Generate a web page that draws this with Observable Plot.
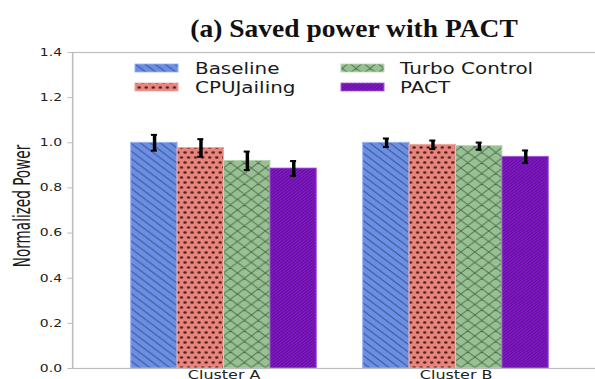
<!DOCTYPE html>
<html>
<head>
<meta charset="utf-8">
<script src="https://cdn.jsdelivr.net/npm/d3@7"></script>
<script src="https://cdn.jsdelivr.net/npm/@observablehq/plot@0.6"></script>
<style>
  html, body { margin: 0; padding: 0; overflow: hidden; background: #fff; width: 595px; height: 379px; }
  #wrap { position: relative; width: 595px; height: 379px; overflow: hidden; }
  #title { position: absolute; left: 104px; top: 16px; width: 500px; text-align: center;
           font-family: "Liberation Serif", serif; font-weight: bold; font-size: 25px; line-height: 25px;
           color: #111; transform: scaleX(1.1); transform-origin: 250px 0; white-space: nowrap; }
  #chart { position: absolute; left: 0; top: 0; width: 457px; height: 390px;
           transform: scaleX(1.33); transform-origin: 0 0; }
  #chart svg { display: block; }
  #overlay { position: absolute; left: 0; top: 0; pointer-events: none; }
</style>
</head>
<body>
<svg width="0" height="0" style="position:absolute">
  <defs>
    <pattern id="pat0" patternUnits="userSpaceOnUse" width="7.5" height="7.5">
      <rect width="7.5" height="7.5" fill="#6b8fe6"/>
      <path d="M0,0 L7.5,7.5 M-1,6.5 L1,8.5 M6.5,-1 L8.5,1" stroke="rgba(0,0,0,0.5)" stroke-width="0.8"/>
    </pattern>
    <pattern id="pat1" patternUnits="userSpaceOnUse" width="5.3" height="10">
      <rect width="5.3" height="10" fill="#e8847c"/>
      <circle cx="1.3" cy="2.5" r="1.25" fill="rgba(45,15,15,0.85)"/>
      <circle cx="3.95" cy="7.5" r="1.25" fill="rgba(45,15,15,0.85)"/>
    </pattern>
    <pattern id="pat2" patternUnits="userSpaceOnUse" width="10.5" height="10.5">
      <rect width="10.5" height="10.5" fill="#97c193"/>
      <path d="M0,0 L10.5,10.5 M-1,9.5 L1,11.5 M9.5,-1 L11.5,1 M0,10.5 L10.5,0 M-1,1 L1,-1 M9.5,11.5 L11.5,9.5" stroke="rgba(0,0,0,0.5)" stroke-width="0.8"/>
    </pattern>
    <pattern id="pat3" patternUnits="userSpaceOnUse" width="3" height="3">
      <rect width="3" height="3" fill="#8418cc"/>
      <path d="M0,3 L3,0 M-0.75,0.75 L0.75,-0.75 M2.25,3.75 L3.75,2.25" stroke="rgba(0,0,0,0.45)" stroke-width="0.7"/>
    </pattern>
  </defs>
</svg>
<div id="wrap">
  <div id="title">(a) Saved power with PACT</div>
  <div id="chart"></div>
</div>
<script>
// ---- data ----
const clusters = ["Cluster A", "Cluster B"];
const series = ["Baseline", "CPUJailing", "Turbo Control", "PACT"];
const clusterA = [1.000, 0.977, 0.920, 0.886];
const clusterB = [1.000, 0.991, 0.985, 0.938];
const errA = [0.035, 0.039, 0.041, 0.033];
const errB = [0.019, 0.019, 0.016, 0.028];
const yTicks = [0, 0.2, 0.4, 0.6, 0.8, 1.0, 1.2, 1.4];
const yLabel = "Normalized Power";

// ---- styling ----
const fills = ["url(#pat0)", "url(#pat1)", "url(#pat2)", "url(#pat3)"];
const edges = ["#9ab3f0", "#f0a8a2", "#b9d7b5", "#a75ce0"];
const barWidth = 0.2;
const capHalf = 0.013;
const K = 1.33;

const values = [clusterA, clusterB];
const errs = [errA, errB];
const rows = [];
clusters.forEach((c, ci) => {
  series.forEach((s, si) => {
    const x = ci + (si - 1.5) * barWidth;
    const v = values[ci][si], e = errs[ci][si];
    rows.push({cluster: c, series: s, si, x, x1: x - barWidth / 2, x2: x + barWidth / 2,
               value: v, lo: v - e, hi: v + e});
  });
});

const marks = [];
series.forEach((s, si) => {
  marks.push(Plot.rectY(rows.filter(d => d.series === s), {
    x1: "x1", x2: "x2", y1: 0, y2: "value",
    fill: fills[si], stroke: edges[si], strokeWidth: 0.8
  }));
});
marks.push(
  Plot.ruleX(rows, {x: "x", y1: "lo", y2: "hi", stroke: "#000", strokeWidth: 2.6}),
  Plot.ruleY(rows, {y: "lo", x1: d => d.x - capHalf, x2: d => d.x + capHalf, stroke: "#000", strokeWidth: 2}),
  Plot.ruleY(rows, {y: "hi", x1: d => d.x - capHalf, x2: d => d.x + capHalf, stroke: "#000", strokeWidth: 2}),
  Plot.frame({stroke: "#bdbdbd", strokeWidth: 1.2}),
  Plot.axisY({ticks: yTicks, tickFormat: d3.format(".1f"), tickSize: 3.5, tickPadding: 4.5,
              fontSize: 10.5, stroke: "#bdbdbd", fill: "#222", label: null}),
  Plot.axisX({ticks: [0, 1], tickFormat: i => clusters[i], tickSize: 0, tickPadding: 1.5,
              fontSize: 12, fill: "#222", label: null})
);

const chart = Plot.plot({
  width: 607 / K,
  height: 390,
  marginLeft: 72 / K,
  marginRight: 0,
  marginTop: 52,
  marginBottom: 22,
  x: {domain: [-0.653, 1.653]},
  y: {domain: [0, 1.4]},
  style: {fontFamily: "DejaVu Sans", background: "transparent", overflow: "visible"},
  marks
});
const host = document.getElementById("chart");
host.appendChild(chart);

// overlay (legend + y label) in the same stretched coordinate system
const ov = d3.select(host).append("svg")
  .attr("id", "overlay")
  .attr("width", 607 / K).attr("height", 379);

const legX = [[135 / K, 195 / K], [341 / K, 400 / K]];
const legY = [64, 83];
series.forEach((s, si) => {
  const c = (si === 0 || si === 1) ? 0 : 1;
  const r = (si === 0 || si === 2) ? 0 : 1;
  ov.append("rect")
    .attr("x", legX[c][0]).attr("y", legY[r])
    .attr("width", 43 / K).attr("height", 8)
    .attr("fill", fills[si]).attr("stroke", edges[si]).attr("stroke-width", 0.8);
  ov.append("text")
    .attr("x", legX[c][1]).attr("y", legY[r] + 10)
    .attr("font-family", "DejaVu Sans").attr("font-size", 15)
    .attr("fill", "#1a1a1a")
    .text(s);
});
ov.append("text")
  .attr("transform", `translate(${23 / K},206) scale(1.25,1) rotate(-90)`)
  .attr("text-anchor", "middle")
  .attr("dominant-baseline", "middle")
  .attr("font-family", "DejaVu Sans").attr("font-size", 13.6)
  .attr("fill", "#1a1a1a")
  .text(yLabel);
</script>
</body>
</html>
